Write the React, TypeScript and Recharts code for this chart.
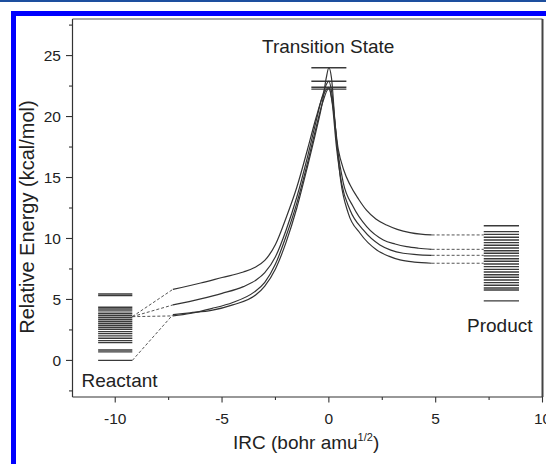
import { LineChart, Line, XAxis, YAxis, ReferenceLine } from "recharts";

// energy levels (kcal/mol)
const reactantLevels = [
  5.45, 5.31, 4.36, 4.22, 4.06, 3.87, 3.7, 3.54, 3.38, 3.21, 3.05, 2.88, 2.72, 2.56, 2.36, 2.2, 2.01, 1.82,
  1.62, 1.46, 0.86, 0.7, 0.0,
];
const productLevels = [
  11.05, 10.56, 10.34, 10.1, 9.88, 9.66, 9.44, 9.22, 9.0, 8.79, 8.57, 8.34, 8.13, 7.91, 7.69, 7.47, 7.25, 7.03,
  6.82, 6.6, 6.38, 6.16, 5.94, 5.78, 4.88,
];
const tsLevels = [24.0, 22.9, 22.4, 22.25];

// IRC ranges of the level stacks
const reactantSpan = [-10.8, -9.2];
const productSpan = [7.25, 8.9];
const tsSpan = [-0.82, 0.82];

// IRC paths [irc, energy]
const ircA = [
  [-7.3, 5.83], [-6.0, 6.35], [-5.0, 6.8], [-4.0, 7.25], [-3.5, 7.6], [-3.0, 8.2], [-2.5, 9.5], [-2.0, 11.7],
  [-1.5, 14.2], [-1.0, 17.3], [-0.6, 19.9], [-0.3, 21.6], [0, 22.4], [0.15, 21.3], [0.44, 17.3], [0.7, 15.6],
  [0.99, 14.4], [1.4, 13.2], [1.77, 12.3], [2.2, 11.6], [2.7, 11.1], [3.2, 10.75], [3.8, 10.48], [4.3, 10.35],
  [4.81, 10.29],
];
const ircB = [
  [-7.3, 4.55], [-6.0, 5.05], [-5.0, 5.5], [-4.0, 6.05], [-3.4, 6.6], [-3.0, 7.2], [-2.5, 8.5], [-2.0, 10.7],
  [-1.5, 13.4], [-1.0, 16.7], [-0.6, 19.6], [-0.3, 21.7], [0, 22.9], [0.15, 21.8], [0.4, 17.4], [0.67, 14.6],
  [1.14, 12.6], [1.77, 10.97], [2.55, 9.88], [3.1, 9.55], [3.64, 9.33], [4.2, 9.2], [4.81, 9.11],
];
const ircC = [
  [-7.3, 3.65], [-6.5, 3.85], [-5.5, 4.25], [-4.5, 4.75], [-3.5, 5.6], [-3.0, 6.4], [-2.5, 7.9], [-2.0, 10.2],
  [-1.5, 12.9], [-1.0, 16.2], [-0.6, 19.1], [-0.3, 21.1], [0, 22.3], [0.15, 21.2], [0.35, 17.6], [0.6, 14.5],
  [0.99, 12.34], [1.61, 10.7], [2.39, 9.47], [2.9, 9.05], [3.48, 8.79], [4.1, 8.68], [4.81, 8.62],
];
const ircD = [
  [-7.3, 3.75], [-6.5, 3.9], [-5.5, 4.1], [-4.5, 4.55], [-3.4, 5.4], [-3.0, 6.1], [-2.5, 7.5], [-2.0, 9.7],
  [-1.5, 12.5], [-1.0, 15.9], [-0.6, 18.8], [-0.3, 21.2], [-0.12, 23.2], [0, 24.0], [0.12, 23.2], [0.3, 19.2],
  [0.55, 14.8], [0.91, 12.06], [1.46, 10.43], [2.24, 9.06], [2.8, 8.55], [3.33, 8.24], [4.0, 8.06], [4.81, 7.97],
];
const ircCurves = [ircA, ircB, ircC, ircD];
// reactant level each path is linked to
const reactantLinks = [3.59, 3.59, 3.59, 0];

const xTicks = [-10, -7.5, -5, -2.5, 0, 2.5, 5, 7.5, 10];
const yTicks = [-2.5, 0, 2.5, 5, 7.5, 10, 12.5, 15, 17.5, 20, 22.5, 25, 27.5];

const FONT = "'Liberation Sans', Arial, Helvetica, sans-serif";
const INK = "#222";

const seg = (span: number[], y: number) => [
  { x: span[0], y },
  { x: span[1], y },
];
const pts = (arr: number[][]) => arr.map(([x, y]) => ({ x, y }));

const YTick = (props: any) => {
  const { x, y, payload } = props;
  const major = payload.value % 5 === 0;
  return (
    <g>
      <line x1={x - (major ? 6.5 : 3.5)} x2={x} y1={y} y2={y} stroke="#333" strokeWidth={1.1} />
      {major && (
        <text x={x - 11.5} y={y + 5.5} textAnchor="end" fontSize={15.5} fontFamily={FONT} fill={INK}>
          {payload.value}
        </text>
      )}
    </g>
  );
};

const XTick = (props: any) => {
  const { x, y, payload } = props;
  const major = payload.value % 5 === 0;
  return (
    <g>
      <line x1={x} x2={x} y1={y} y2={y + (major ? 5.5 : 3)} stroke="#333" strokeWidth={1.1} />
      {major && (
        <text x={x} y={y + 26.5} textAnchor="middle" fontSize={15.5} fontFamily={FONT} fill={INK}>
          {payload.value}
        </text>
      )}
    </g>
  );
};

const levelLine = (data: any[], key: string) => (
  <Line
    key={key}
    data={data}
    dataKey="y"
    type="linear"
    stroke="#3a3a3a"
    strokeWidth={1.4}
    dot={false}
    activeDot={false}
    isAnimationActive={false}
  />
);

export default function App() {
  return (
    <div style={{ position: "fixed", left: 0, top: 0, width: 546, height: 464, background: "#fff", overflow: "hidden" }}>
      <div style={{ position: "absolute", left: 0, top: 0, width: 546, height: 2, background: "#1d4f9e" }} />
      <div style={{ position: "absolute", left: 11, top: 11, width: 535, height: 5, background: "#0000ff" }} />
      <div style={{ position: "absolute", left: 11, top: 11, width: 5, height: 453, background: "#0000ff" }} />
      <div style={{ position: "absolute", left: 0, top: 0 }}>
        <LineChart width={546} height={464} margin={{ top: 19, right: 3.5, bottom: 37, left: 0 }}>
          <XAxis
            type="number"
            dataKey="x"
            domain={[-12, 10]}
            ticks={xTicks}
            interval={0}
            tickSize={0}
            tickMargin={0}
            tickLine={false}
            tick={<XTick />}
            axisLine={{ stroke: "#333", strokeWidth: 1.2 }}
            height={30}
            allowDataOverflow
          />
          <YAxis
            type="number"
            domain={[-3, 28]}
            ticks={yTicks}
            interval={0}
            tickSize={0}
            tickMargin={0}
            tickLine={false}
            tick={<YTick />}
            axisLine={{ stroke: "#333", strokeWidth: 1.2 }}
            width={72.5}
            allowDataOverflow
          />
          <ReferenceLine y={28} stroke="#555" strokeWidth={1.1} />
          <ReferenceLine x={10} stroke="#444" strokeWidth={2} />
          {reactantLevels.map((e, i) => levelLine(seg(reactantSpan, e), `r${i}`))}
          {productLevels.map((e, i) => levelLine(seg(productSpan, e), `p${i}`))}
          {tsLevels.map((e, i) => levelLine(seg(tsSpan, e), `t${i}`))}
          {ircCurves.map((c, i) => (
            <Line
              key={`lc${i}`}
              data={[{ x: reactantSpan[1], y: reactantLinks[i] }, { x: c[0][0], y: c[0][1] }]}
              dataKey="y"
              type="linear"
              stroke="#555"
              strokeWidth={1}
              strokeDasharray="3 2"
              dot={false}
              activeDot={false}
              isAnimationActive={false}
            />
          ))}
          {ircCurves.map((c, i) => (
            <Line
              key={`rc${i}`}
              data={[{ x: c[c.length - 1][0], y: c[c.length - 1][1] }, { x: productSpan[0], y: c[c.length - 1][1] }]}
              dataKey="y"
              type="linear"
              stroke="#555"
              strokeWidth={1}
              strokeDasharray="3 2"
              dot={false}
              activeDot={false}
              isAnimationActive={false}
            />
          ))}
          {ircCurves.map((c, i) => (
            <Line
              key={`c${i}`}
              data={pts(c)}
              dataKey="y"
              type="monotone"
              stroke="#333"
              strokeWidth={1.2}
              dot={false}
              activeDot={false}
              isAnimationActive={false}
            />
          ))}
        </LineChart>
      </div>
      <svg width={546} height={464} style={{ position: "absolute", left: 0, top: 0, pointerEvents: "none" }}>
        <g fontFamily={FONT} fill={INK}>
          <text x={262} y={52.5} fontSize={19}>Transition State</text>
          <text x={81.5} y={386.5} fontSize={19}>Reactant</text>
          <text x={467} y={331.5} fontSize={19}>Product</text>
          <text x={233} y={449} fontSize={19}>
            IRC (bohr amu
            <tspan fontSize={11} dy={-8}>1/2</tspan>
            <tspan dy={8}>)</tspan>
          </text>
          <text transform="translate(34, 217) rotate(-90)" textAnchor="middle" fontSize={20}>
            Relative Energy (kcal/mol)
          </text>
        </g>
      </svg>
    </div>
  );
}
